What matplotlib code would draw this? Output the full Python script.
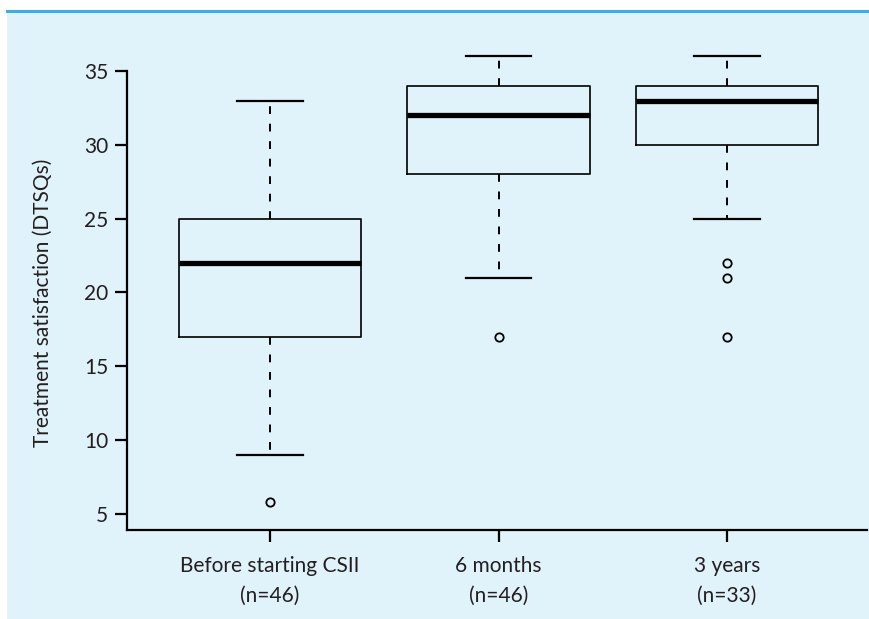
import matplotlib
matplotlib.use("Agg")
import matplotlib.pyplot as plt
from matplotlib.patches import Rectangle
from matplotlib.lines import Line2D

# ---- data ----
categories = ["Before starting CSII\n(n=46)", "6 months\n(n=46)", "3 years\n(n=33)"]
whisker_low = [9, 21, 25]
q1 = [17, 28, 30]
median = [22, 32, 33]
q3 = [25, 34, 34]
whisker_high = [33, 36, 36]
outliers = [[5.8], [17], [22, 21, 17]]
yticks = [5, 10, 15, 20, 25, 30, 35]
ylabel = "Treatment satisfaction (DTSQs)"

W, H = 869, 619
DPI = 100
BG = "#e0f2fa"
BLUE = "#3aaee0"
TXT = "#231f20"

plt.rcParams['font.family'] = ['Lato', 'DejaVu Sans']

fig = plt.figure(figsize=(W / DPI, H / DPI), dpi=DPI, facecolor="white")
fig.patches.append(Rectangle((7 / W, 0), 1 - 7 / W, 1 - 11 / H, transform=fig.transFigure,
                             facecolor=BG, edgecolor="none", zorder=-10))
fig.lines.append(Line2D([7 / W, 1], [1 - 11 / H, 1 - 11 / H], transform=fig.transFigure,
                        color=BLUE, lw=2.2, zorder=-9))

left_px, right_px, bottom_px, top_px = 127, 867, 530, 20
ax = fig.add_axes([left_px / W, 1 - bottom_px / H, (right_px - left_px) / W, (bottom_px - top_px) / H])
ax.set_facecolor("none")
ax.set_zorder(5)

stats = []
for i in range(len(categories)):
    stats.append(dict(med=median[i], q1=q1[i], q3=q3[i], whislo=whisker_low[i],
                      whishi=whisker_high[i], fliers=outliers[i]))

ax.bxp(stats, positions=[1, 2, 3], widths=0.8, capwidths=0.285, showfliers=True,
       boxprops=dict(color="black", lw=1.2),
       medianprops=dict(color="black", lw=3.8, solid_capstyle="butt"),
       whiskerprops=dict(color="black", lw=1.4, linestyle=(0, (4, 5))),
       capprops=dict(color="black", lw=1.6),
       flierprops=dict(marker="o", markersize=6, markerfacecolor="none",
                       markeredgecolor="black", markeredgewidth=1.3))

ybot = 5 - 16 / 14.767
ax.set_xlim(1 - 143 / 228.5, 3 + 140 / 228.5)
ax.set_ylim(ybot, 35 + 51 / 14.767)
ax.set_yticks(yticks)
ax.set_yticklabels([str(t) for t in yticks])
ax.set_xticks([1, 2, 3])
ax.set_xticklabels(categories, linespacing=1.65)

for s in ["top", "right"]:
    ax.spines[s].set_visible(False)
for s in ["left", "bottom"]:
    ax.spines[s].set_linewidth(1.6)
ax.spines["left"].set_bounds(ybot, yticks[-1])
ax.tick_params(axis="both", length=8.5, width=1.6, colors="black", labelcolor=TXT,
               labelsize=15)
ax.tick_params(axis="y", pad=5)
ax.tick_params(axis="x", pad=10)
ax.set_ylabel(ylabel, fontsize=15, color=TXT)
ax.yaxis.set_label_coords((43 - left_px) / (right_px - left_px), 0.5 - (303 - (bottom_px + top_px) / 2) / (bottom_px - top_px))
ax.yaxis.label.set_va("center")

fig.savefig("out.png", dpi=DPI, facecolor="white")
